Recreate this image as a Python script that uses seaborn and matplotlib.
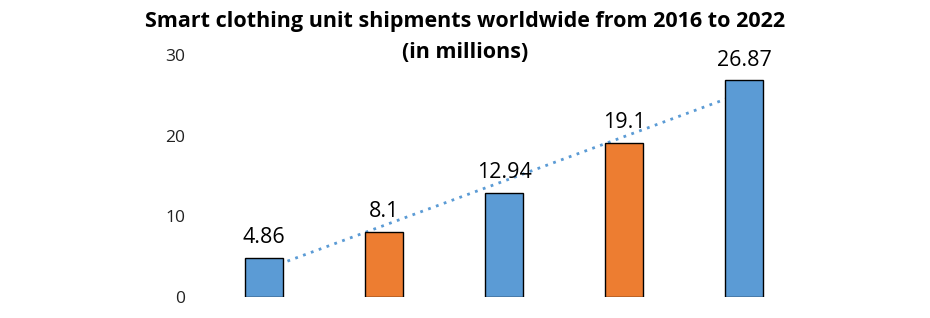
import numpy as np
import pandas as pd
import matplotlib
matplotlib.use("Agg")
import matplotlib.pyplot as plt
import seaborn as sns

categories = ["2016", "2017", "2018", "2020", "2022"]
values = [4.86, 8.1, 12.94, 19.1, 26.87]
labels = ["4.86", "8.1", "12.94", "19.1", "26.87"]
bar_colors = ["#5B9BD5", "#ED7D31", "#5B9BD5", "#ED7D31", "#5B9BD5"]
yticks = [0, 10, 20, 30]
title_lines = ["Smart clothing unit shipments worldwide from 2016 to 2022", "(in millions)"]

sns.set_theme(style="white")
plt.rcParams["font.family"] = ["Open Sans", "DejaVu Sans"]

df = pd.DataFrame({"cat": categories, "val": values})

fig = plt.figure(figsize=(9.3, 3.18), dpi=100)
ax = fig.add_axes([204 / 930, 21 / 318, 600 / 930, 242 / 318])

sns.barplot(data=df, x="cat", y="val", hue="cat", palette=bar_colors,
            saturation=1, width=0.32, edgecolor="black", linewidth=1.0,
            legend=False, ax=ax, zorder=3, dodge=False)

# linear trendline (drawn behind bars)
xs = np.arange(len(values))
coef = np.polyfit(xs, values, 1)
ax.plot(xs, np.polyval(coef, xs), linestyle=(0, (1, 2)), color="#5B9BD5",
        linewidth=2.0, zorder=2)

for i, (v, t) in enumerate(zip(values, labels)):
    ax.text(i, v + 1.2, t, ha="center", va="bottom", fontsize=15.5, color="black")

ax.set_xlim(-0.5, len(values) - 0.5)
ax.set_ylim(0, 30)
ax.set_yticks(yticks)
ax.set_yticklabels([str(t) for t in yticks], fontsize=12.5, color="#222222")
ax.tick_params(axis="y", length=0, pad=13.5)
ax.set_xticks([])
ax.set_xlabel("")
ax.set_ylabel("")
for s in ax.spines.values():
    s.set_visible(False)

fig.text(0.5, 1 - 22 / 318, title_lines[0], ha="center", va="center",
         fontsize=15.5, fontweight="bold", color="black")
fig.text(0.5, 1 - 52 / 318, title_lines[1], ha="center", va="center",
         fontsize=15.5, fontweight="bold", color="black")

fig.savefig("out.png", dpi=100)
